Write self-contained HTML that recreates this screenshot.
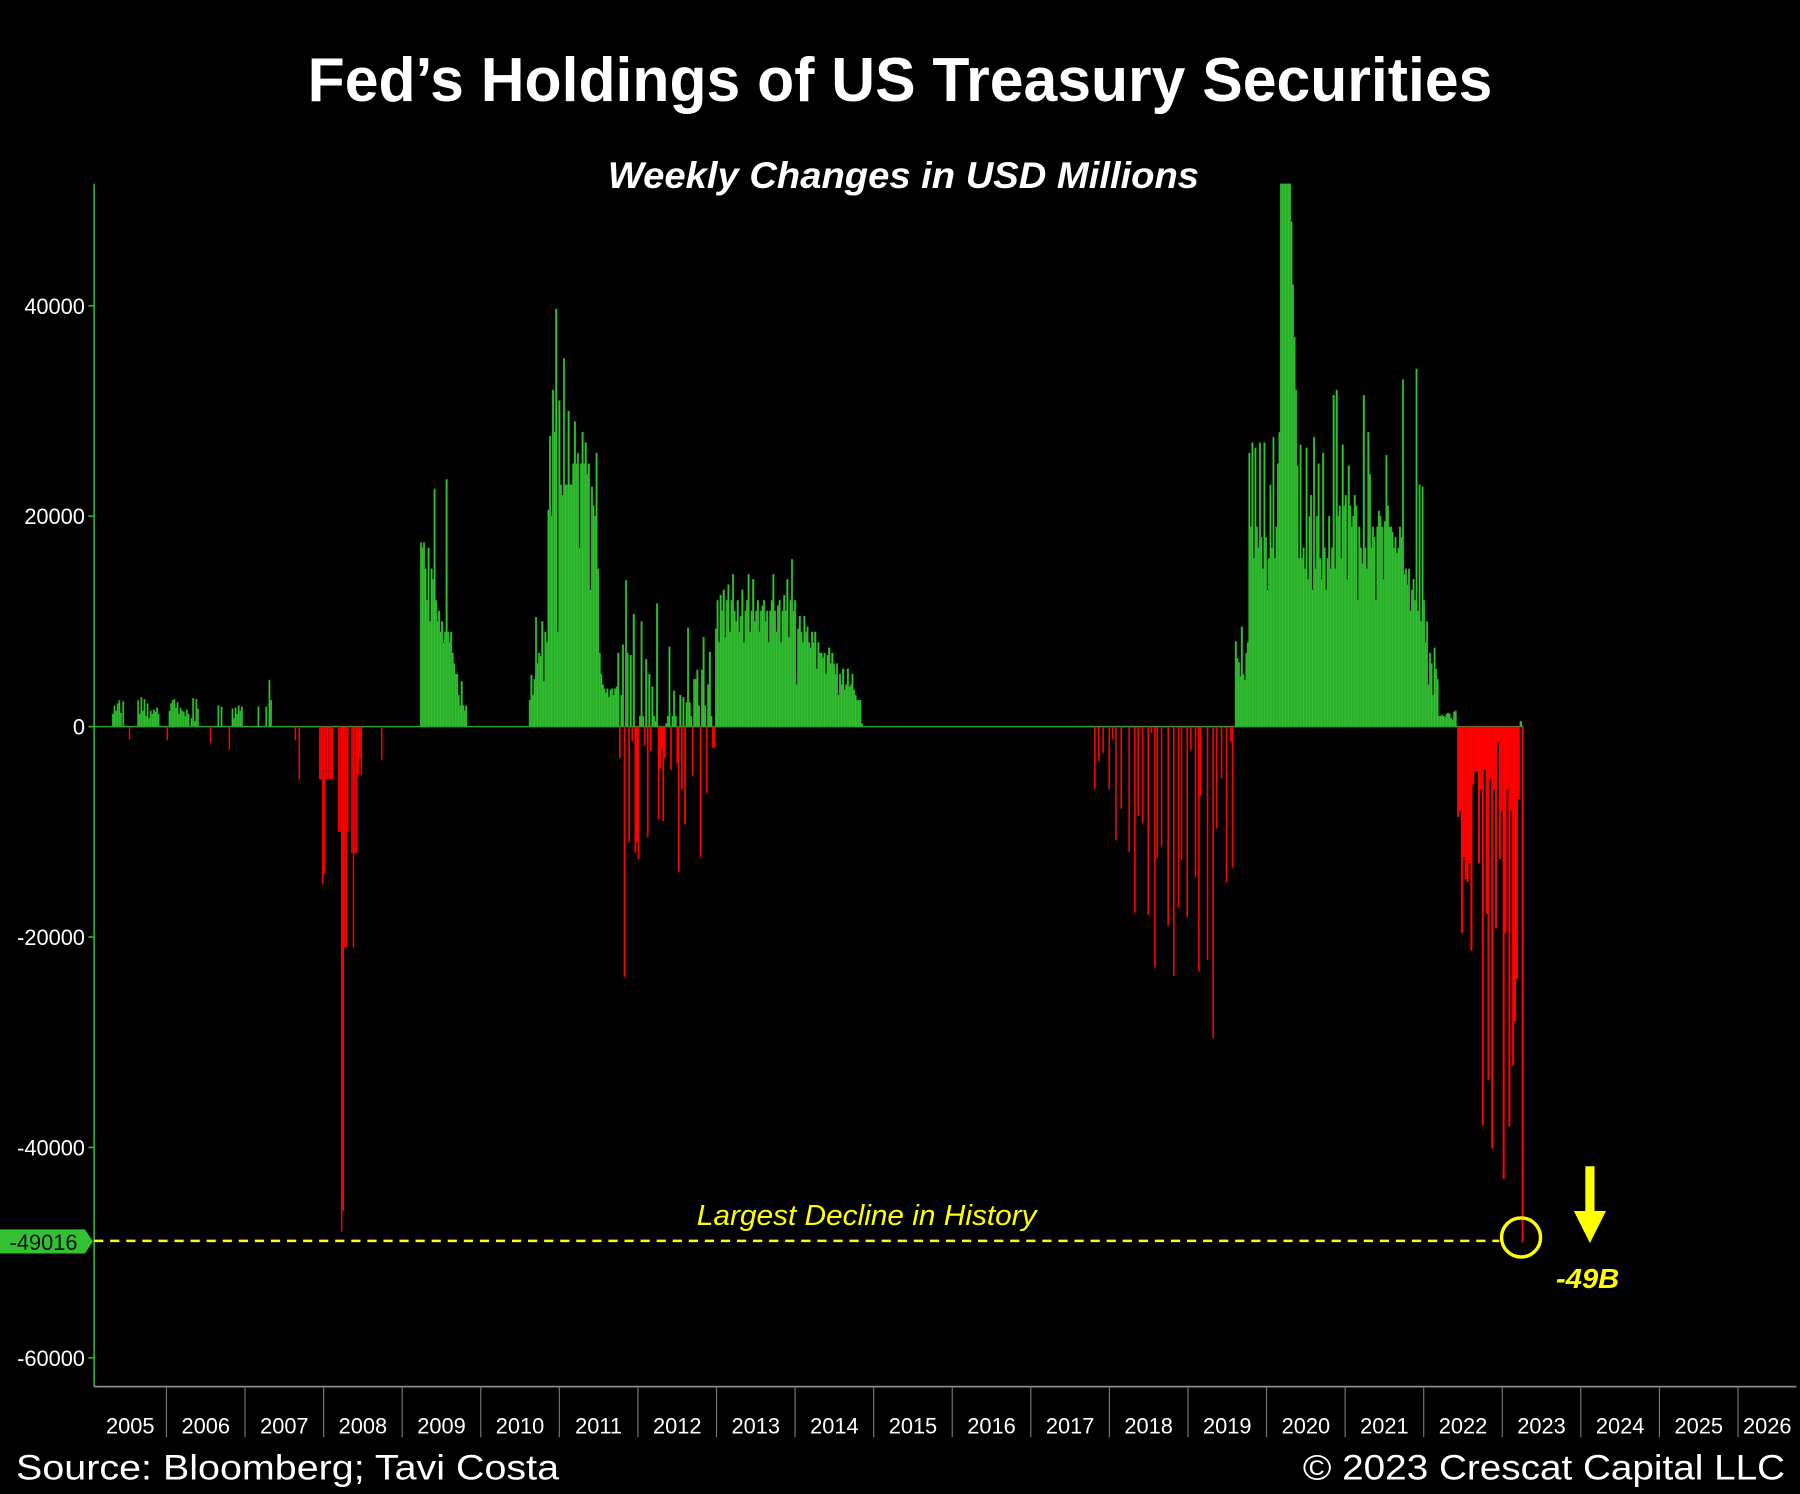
<!DOCTYPE html>
<html><head><meta charset="utf-8"><style>
html,body{margin:0;padding:0;background:#000;}
svg{display:block;}
text{font-family:"Liberation Sans",sans-serif;}
</style></head><body>
<svg id="chart" width="1800" height="1494" viewBox="0 0 1568 1301.5" preserveAspectRatio="none" xmlns="http://www.w3.org/2000/svg">
<rect x="0" y="0" width="1568" height="1301.5" fill="#000"/>
<text x="784" y="88" fill="#fff" font-size="54" font-weight="bold" text-anchor="middle" textLength="1032" lengthAdjust="spacingAndGlyphs">Fed’s Holdings of US Treasury Securities</text>
<text x="787" y="164" fill="#fff" font-size="32" font-weight="bold" font-style="italic" text-anchor="middle" textLength="515" lengthAdjust="spacingAndGlyphs">Weekly Changes in USD Millions</text>
<g id="bars"></g>
<g id="axes"></g>
<line x1="82" x2="1306" y1="1081" y2="1081" stroke="#ffff00" stroke-width="2.2" stroke-dasharray="8,6"/>
<polygon points="0,1071 74,1071 81,1081.5 74,1092 0,1092" fill="#33c033"/>
<text x="38" y="1089" fill="#111" font-size="19" text-anchor="middle">-49016</text>
<text x="755" y="1067" fill="#ffff00" font-size="25" font-style="italic" text-anchor="middle" textLength="296" lengthAdjust="spacingAndGlyphs">Largest Decline in History</text>
<circle cx="1325" cy="1078" r="17" fill="none" stroke="#ffff00" stroke-width="3"/>
<rect x="1381" y="1016" width="8" height="42" fill="#ffff00"/>
<polygon points="1371,1055 1399,1055 1385,1083" fill="#ffff00"/>
<text x="1383" y="1122" fill="#ffff00" font-size="24" font-weight="bold" font-style="italic" text-anchor="middle" textLength="55" lengthAdjust="spacingAndGlyphs">-49B</text>
<text x="14" y="1289" fill="#fff" font-size="31" textLength="473" lengthAdjust="spacingAndGlyphs">Source: Bloomberg; Tavi Costa</text>
<text x="1555" y="1289" fill="#fff" font-size="31" text-anchor="end" textLength="420" lengthAdjust="spacingAndGlyphs">© 2023 Crescat Capital LLC</text>
</svg>
<script>
const yTicks = [40000, 20000, 0, -20000, -40000, -60000];
const yearLabels = ["2005","2006","2007","2008","2009","2010","2011","2012","2013","2014","2015","2016","2017","2018","2019","2020","2021","2022","2023","2024","2025","2026"];
// individual weekly bars: decimal-year dates and values (USD billions)
const spikeDates = [2005.32,2005.34,2005.36,2005.38,2005.40,2005.42,2005.45,2005.53,
2005.64,2005.66,2005.68,2005.70,2005.72,2005.74,2005.76,2005.78,2005.80,2005.82,2005.84,2005.86,2005.88,2005.90,
2006.01,2006.04,2006.06,2006.08,2006.10,2006.12,2006.14,2006.16,2006.18,2006.20,2006.22,2006.24,2006.26,2006.28,
2006.32,2006.34,2006.36,2006.38,2006.40,2006.56,2006.66,2006.70,2006.80,
2006.84,2006.86,2006.88,2006.90,2006.92,2006.94,2006.96,
2007.17,2007.27,2007.31,2007.33,2007.64,2007.69,
2007.95,2007.97,2007.99,2008.01,2008.03,2008.05,2008.07,2008.09,2008.11,
2008.19,2008.21,2008.23,2008.25,2008.27,2008.29,2008.31,
2008.36,2008.38,2008.40,2008.42,2008.44,2008.46,2008.48,2008.74];
const spikeVals = [1.2,2.0,1.5,2.2,2.5,1.3,2.4,-1.2,
2.5,1.2,2.8,1.5,2.6,1.0,2.2,0.8,1.5,1.2,1.6,1.4,1.8,1.2,
-1.3,1.5,2.2,2.5,2.6,1.8,2.3,1.2,1.8,1.5,1.4,1.0,1.6,1.2,
0.8,2.7,0.5,2.6,1.7,-1.6,2.0,1.9,-2.2,
1.7,0.8,1.8,1.2,2.0,1.5,1.9,
1.9,1.9,4.4,2.5,-1.3,-5,
-5,-5,-15,-14,-5,-5,-5,-5,-5,
-10,-10,-48,-46,-21,-21,-10,
-12,-21,-12,-12,-4.6,-3,-4.6,-3.2];
const qtDates = [2017.815,2017.866,2017.921,2017.998,2018.040,2018.083,2018.150,2018.252,2018.324,2018.367,2018.422,2018.494,2018.536,2018.579,2018.608,2018.664,2018.748,2018.820,2018.880,2018.918,2018.990,2019.037,2019.096,2019.139,2019.160,2019.249,2019.321,2019.363,2019.427,2019.491,2019.546,2019.567];
const qtVals = [-5.9,-3.3,-2.5,-6,-1.2,-10.8,-7.8,-11.9,-17.7,-8.5,-9.2,-17.9,-0.6,-22.9,-12.5,-11.4,-18.9,-23.7,-17.2,-12.7,-18.1,-2.2,-14.3,-23.3,-6.6,-22.2,-29.6,-9.7,-4.9,-14.8,-1.4,-13.4];
// weekly series segments
const start2009 = 2009.24;
const vals2009 = [17.5,17,17.5,15,12,17,10,15,14,22.6,12,10,11,9,10,8,9,23.5,9,8,9,7,6,5,5,3,2,4.3,2,1.5,2];
const start2010 = 2010.625;
const vals2010 = [2.5,4.9,3,4.5, 10.4,6,7,6.7,10,4.3,9,8, 20.6,27.6,20, 32,28,39.7, 9,31,23,22,35, 23,23,30,23,23,
25,29,25,26,17,25,28,25,27,24,25,13, 22.8,21,20,26, 15, 7,5, 4,3.6,3.2,3.6,2.8,3.5,3.6,3,3.6,3.8,
7,-3,3,7.8,-23.8,13.9,7,-11,6.8,-1.4,10.7,-12,-11,-12.6,1,10,1,-1.8,6.4,-10.5,5,-2.3,3.8,1,0.5,11.7,-8.8,-4,-2,-9,-3,0.3,1,7.6,-4.1,1,3.4,1,-3.5,-13.8,3,-6,2.8,-9.3,2.3,9.4,2.3,1,-4.7,4.5,4.5,5.4,2,-12.4,5.4,8.5,2,-6.3,4,7.1,1,-2,-2,
9.3,12,8,12.5,11,13,8.5,12,13.5,9,12,
14.5,11,10,12,9,10.5,13,8,11,12,14.5,9,11,
14,10,11,12,9,11,11.5,12,10,11,8,11,12,
14.5,11,9,11.5,12,8,11,12.5,11,14,8.5,12,15.9,11,12,
4,9.3,10.5,9,8,10.5,9,
9.5,8,7.5,9,8,9,5.5,8,7,
7,6.5,7,5,6.8,7.5,6,7,6,5,6,
3,5,4,5.5,3.5,4,5.5,3.8,4,5,3.5,
3,2.5,2.5,2.5,0.3];
const start2019 = 2019.609;
const vals2019 = [8.1,6.5,6.1,4.8,9.5,5,4.4,7,8, 26,19,
27,16,26.5,19,17,27,18,15,27,18,13,16,23,17,27.5,16,19,25,28,
51.6,51.6,51.6,51.6,51.6,51.6,51.6,48,42, 37,32, 24.8,16,
26.8,16,17,15,26.5,14,20,22,13,27.5,15,20,25,16,14,26,17,13,16,20,15,17,
31.5,15,32,20,
21,16,26.8,21,22,14,24.8,21,19,20,22,21,12,19,
17,15.5,31.5,17,15,28,24,
17,19,18,12,19,20.5,20,19,14,19.5,25.8,21,19,
19,18.5,17,18,16.5,17,19,18,33,
14.5,15,13.5,15,11,13,14,12,34,
11,23,10,22.8,12,8,10,
4,7,6,3,7.5,5.5,4.5,
1.0,1.0,1.1,1.0,0.9,1.2,1.3,1.2,0.8,0.6,1.4,1.5];
const start2022 = 2022.438;
const vals2022 = [-8.6,-8,-19.6,-12.4,-14.5,-14.8,-13,-21.3,-5.5,-4.3,-4.3,-13,-6,-37.9,-4.1,-17.8,-33.6,-5,-40.1,-6,-19.2,-1.5,-12.6,-8,-43,-19.6,-6,-38,-8,-32.2,-28,-24,-6.9,0.5,-49.016];

const X0 = 145, PXY = 68.45, Y0 = 633, PXB = 9.165;
const WEEK = 1/52.18;
function xScale(d){ return X0 + (d - 2006) * PXY; }
function yScale(v){ return Y0 - v * PXB; }
const NS = "http://www.w3.org/2000/svg";
const barsG = document.getElementById('bars');
const axesG = document.getElementById('axes');

function drawBar(d, v, w, name){
  const r = document.createElementNS(NS, 'rect');
  const x = xScale(d), y0 = yScale(0), y1 = yScale(v);
  r.setAttribute('x', (x - w/2).toFixed(2));
  r.setAttribute('width', w.toFixed(2));
  r.setAttribute('y', Math.min(y0, y1).toFixed(2));
  r.setAttribute('height', Math.max(0.6, Math.abs(y1 - y0)).toFixed(2));
  r.setAttribute('fill', v >= 0 ? '#33c033' : '#ff0000');
  if (v >= 0) { r.setAttribute('stroke', '#239a23'); r.setAttribute('stroke-width', '0.35'); }
  
  
  barsG.appendChild(r);
}
const base = document.createElementNS(NS, 'line');
base.setAttribute('x1', 82); base.setAttribute('x2', xScale(2023.27));
base.setAttribute('y1', Y0); base.setAttribute('y2', Y0);
base.setAttribute('stroke', '#2f9f2f'); base.setAttribute('stroke-width', '1.3');


barsG.appendChild(base);

for (let i = 0; i < spikeDates.length; i++) drawBar(spikeDates[i], spikeVals[i], 1.3, 'weekly-bar');
for (let i = 0; i < qtDates.length; i++) drawBar(qtDates[i], qtVals[i], 1.4, 'weekly-bar');
function drawSeg(start, vals, step){
  const w = step * WEEK * PXY + 0.15;
  for (let i = 0; i < vals.length; i++) drawBar(start + i * step * WEEK, vals[i], w, 'weekly-bar');
}
drawSeg(start2009, vals2009, 1);
drawSeg(start2010, vals2010, 1.03);
drawSeg(start2019, vals2019, 1);
drawSeg(start2022, vals2022, 1.26);

const yAxis = document.createElementNS(NS, 'line');
yAxis.setAttribute('x1', 82); yAxis.setAttribute('x2', 82);
yAxis.setAttribute('y1', 160); yAxis.setAttribute('y2', 1208);
yAxis.setAttribute('stroke', '#2fa82f'); yAxis.setAttribute('stroke-width', '1.5');


axesG.appendChild(yAxis);
yTicks.forEach(t => {
  const y = yScale(t / 1000);
  const tk = document.createElementNS(NS, 'line');
  tk.setAttribute('x1', 77); tk.setAttribute('x2', 82); tk.setAttribute('y1', y); tk.setAttribute('y2', y);
  tk.setAttribute('stroke', '#2fa82f'); tk.setAttribute('stroke-width', '1.5');
  
  
  axesG.appendChild(tk);
  const tx = document.createElementNS(NS, 'text');
  tx.setAttribute('x', 74); tx.setAttribute('y', y + 7);
  tx.setAttribute('fill', '#fff'); tx.setAttribute('font-size', '19'); tx.setAttribute('text-anchor', 'end');
  tx.textContent = String(t);
  
  
  axesG.appendChild(tx);
});
const xAxis = document.createElementNS(NS, 'line');
xAxis.setAttribute('x1', 82); xAxis.setAttribute('x2', 1565);
xAxis.setAttribute('y1', 1208); xAxis.setAttribute('y2', 1208);
xAxis.setAttribute('stroke', '#8a8a8a'); xAxis.setAttribute('stroke-width', '1.5');


axesG.appendChild(xAxis);
yearLabels.forEach((lab, i) => {
  const yr = 2005 + i;
  const left = Math.max(82, xScale(yr)), right = Math.min(1565, xScale(yr + 1));
  if (i > 0) {
    const sep = document.createElementNS(NS, 'line');
    sep.setAttribute('x1', xScale(yr)); sep.setAttribute('x2', xScale(yr));
    sep.setAttribute('y1', 1208); sep.setAttribute('y2', 1252);
    sep.setAttribute('stroke', '#777'); sep.setAttribute('stroke-width', '1');
    
    
    axesG.appendChild(sep);
  }
  const tx = document.createElementNS(NS, 'text');
  tx.setAttribute('x', (left + right) / 2); tx.setAttribute('y', 1249);
  tx.setAttribute('fill', '#fff'); tx.setAttribute('font-size', '19'); tx.setAttribute('text-anchor', 'middle');
  tx.textContent = lab;
  
  
  axesG.appendChild(tx);
});
</script>
</body></html>
